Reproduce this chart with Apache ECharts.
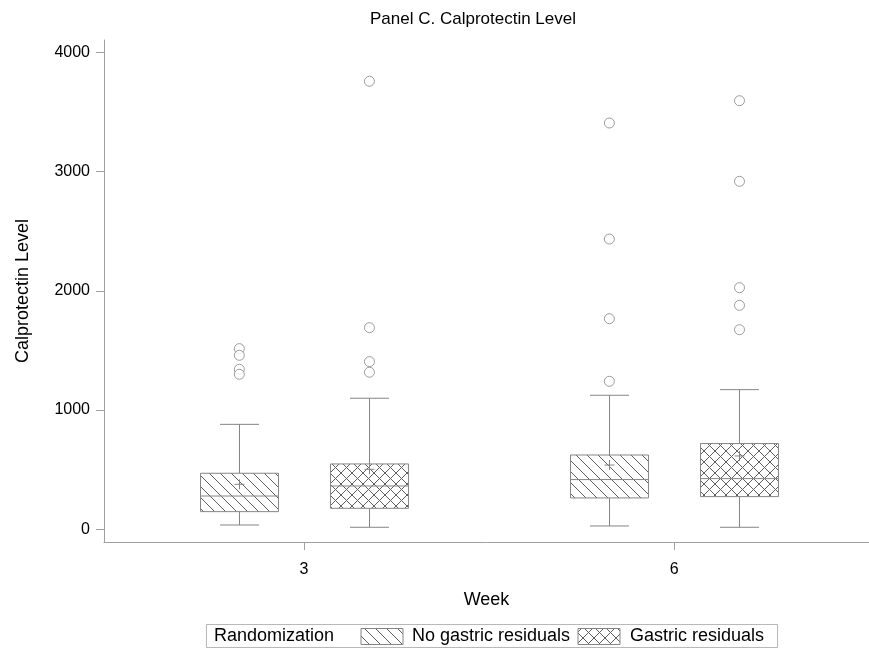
<!DOCTYPE html>
<html>
<head>
<meta charset="utf-8">
<script src="https://cdn.jsdelivr.net/npm/echarts@6/dist/echarts.min.js"></script>
<style>
html,body{margin:0;padding:0;background:#fff;}
#chart{width:869px;height:654px;}
</style>
</head>
<body>
<div id="chart"></div>
<script>
// ---- data ----
const weeks = [3, 6];
const groupNames = ['No gastric residuals', 'Gastric residuals'];
// [min, Q1, median, Q3, max, mean] per week
const noResidualStats = [
  [36, 148, 279, 470, 880, 377],
  [28, 263, 417, 623, 1124, 539]
];
const residualStats = [
  [17, 176, 363, 548, 1099, 503],
  [17, 274, 425, 719, 1171, 615]
];
const noResidualOutliers = [
  [1515, 1459, 1342, 1300],
  [1241, 1766, 2434, 3407]
];
const residualOutliers = [
  [1317, 1406, 1691, 3757],
  [1674, 1878, 2026, 2918, 3594]
];
const yTicks = [0, 1000, 2000, 3000, 4000];

// ---- styling / layout ----
const GRAY = '#858585';
const FONT = 'Liberation Sans, Arial, sans-serif';
const OFFSETS = [-0.525, 0.53];
const BOX_W = 0.632;

function makePattern(cross) {
  const s = 11;
  const c = document.createElement('canvas');
  c.width = s; c.height = s;
  const g = c.getContext('2d');
  g.fillStyle = '#fff';
  g.fillRect(0, 0, s, s);
  g.strokeStyle = '#5e5e5e';
  g.lineWidth = 1;
  g.beginPath();
  g.moveTo(-2, -2); g.lineTo(s + 2, s + 2);
  g.moveTo(-2, s - 2); g.lineTo(2, s + 2);
  g.moveTo(s - 2, -2); g.lineTo(s + 2, 2);
  if (cross) {
    g.moveTo(-2, s + 2); g.lineTo(s + 2, -2);
    g.moveTo(-2, 2); g.lineTo(2, -2);
    g.moveTo(s - 2, s + 2); g.lineTo(s + 2, s - 2);
  }
  g.stroke();
  return c;
}
const patterns = [makePattern(false), makePattern(true)];

function boxData(stats, gi) {
  return weeks.map((w, i) => [w + OFFSETS[gi]].concat(stats[i]));
}
function outlierData(outs, gi) {
  const d = [];
  weeks.forEach((w, i) => outs[i].forEach(v => d.push([w + OFFSETS[gi], v])));
  return d;
}

function makeRender(gi) {
  return function (params, api) {
    const x = api.value(0);
    const lo = api.coord([x, api.value(1)]);
    const q1 = api.coord([x, api.value(2)]);
    const med = api.coord([x, api.value(3)]);
    const q3 = api.coord([x, api.value(4)]);
    const hi = api.coord([x, api.value(5)]);
    const mean = api.coord([x, api.value(6)]);
    const w = api.size([BOX_W, 0])[0];
    const cx = Math.round(lo[0]) + 0.5;
    const half = w / 2;
    const cap = w / 4;
    const ls = { stroke: GRAY, lineWidth: 1 };
    return {
      type: 'group',
      children: [
        { type: 'line', shape: { x1: cx, y1: q3[1], x2: cx, y2: hi[1] }, style: ls },
        { type: 'line', shape: { x1: cx, y1: q1[1], x2: cx, y2: lo[1] }, style: ls },
        { type: 'line', shape: { x1: cx - cap, y1: hi[1], x2: cx + cap, y2: hi[1] }, style: ls },
        { type: 'line', shape: { x1: cx - cap, y1: lo[1], x2: cx + cap, y2: lo[1] }, style: ls },
        { type: 'rect', shape: { x: cx - half, y: q3[1], width: w, height: q1[1] - q3[1] },
          style: { fill: { image: patterns[gi], repeat: 'repeat' }, stroke: GRAY, lineWidth: 1 } },
        { type: 'line', shape: { x1: cx - half, y1: med[1], x2: cx + half, y2: med[1] }, style: ls },
        { type: 'line', shape: { x1: cx - 5, y1: mean[1], x2: cx + 5, y2: mean[1] }, style: ls },
        { type: 'line', shape: { x1: cx, y1: mean[1] - 5, x2: cx, y2: mean[1] + 5 }, style: ls }
      ]
    };
  };
}

const chart = echarts.init(document.getElementById('chart'), null, { renderer: 'canvas' });
const option = {
  backgroundColor: '#fff',
  animation: false,
  textStyle: { fontFamily: FONT },
  title: {
    text: 'Panel C. Calprotectin Level',
    left: 468, top: 6, textAlign: 'center',
    textStyle: { fontSize: 17, fontWeight: 'normal', color: '#000', fontFamily: FONT }
  },
  grid: { left: 104, right: 0, top: 40, bottom: 112, containLabel: false },
  xAxis: {
    type: 'value', min: 1.378, max: 7.58,
    name: 'Week', nameLocation: 'middle', nameGap: 49,
    nameTextStyle: { fontSize: 18, color: '#000', fontFamily: FONT },
    splitLine: { show: false },
    axisLine: { show: true, onZero: false, lineStyle: { color: '#a0a0a0' } },
    axisTick: { show: true, length: 8, customValues: weeks, lineStyle: { color: '#a0a0a0' } },
    axisLabel: { customValues: weeks, fontSize: 16, color: '#000', margin: 20, fontFamily: FONT,
      formatter: v => String(v) }
  },
  yAxis: {
    type: 'value', min: -106.5, max: 4103,
    name: 'Calprotectin Level', nameLocation: 'middle', nameGap: 72, nameRotate: 90,
    nameTextStyle: { fontSize: 18, color: '#000', fontFamily: FONT },
    splitLine: { show: false },
    axisLine: { show: true, onZero: false, lineStyle: { color: '#a0a0a0' } },
    axisTick: { show: true, length: 8, customValues: yTicks, lineStyle: { color: '#a0a0a0' } },
    axisLabel: { customValues: yTicks, fontSize: 16, color: '#000', margin: 14, fontFamily: FONT,
      formatter: v => String(v) }
  },
  series: [
    { type: 'custom', name: groupNames[0], renderItem: makeRender(0),
      data: boxData(noResidualStats, 0), encode: { x: 0, y: [1, 2, 3, 4, 5, 6] }, z: 2 },
    { type: 'custom', name: groupNames[1], renderItem: makeRender(1),
      data: boxData(residualStats, 1), encode: { x: 0, y: [1, 2, 3, 4, 5, 6] }, z: 2 },
    { type: 'scatter', name: groupNames[0] + ' outliers', symbol: 'circle', symbolSize: 10,
      itemStyle: { color: '#fff', borderColor: GRAY, borderWidth: 1 },
      data: outlierData(noResidualOutliers, 0), z: 3 },
    { type: 'scatter', name: groupNames[1] + ' outliers', symbol: 'circle', symbolSize: 10,
      itemStyle: { color: '#fff', borderColor: GRAY, borderWidth: 1 },
      data: outlierData(residualOutliers, 1), z: 3 }
  ],
  graphic: [
    { type: 'rect', x: 0, y: 0, shape: { x: 206.5, y: 624.5, width: 571, height: 23 },
      style: { fill: '#fff', stroke: '#b8b8b8', lineWidth: 1 } },
    { type: 'text', x: 0, y: 0,
      style: { x: 214, y: 636.5, text: 'Randomization', font: '18px ' + FONT, fill: '#000', verticalAlign: 'middle' } },
    { type: 'rect', x: 0, y: 0, shape: { x: 361, y: 628.5, width: 42, height: 16 },
      style: { fill: { image: patterns[0], repeat: 'repeat' }, stroke: GRAY, lineWidth: 1 } },
    { type: 'text', x: 0, y: 0,
      style: { x: 412, y: 636.5, text: groupNames[0], font: '18px ' + FONT, fill: '#000', verticalAlign: 'middle' } },
    { type: 'rect', x: 0, y: 0, shape: { x: 578, y: 628.5, width: 42, height: 16 },
      style: { fill: { image: patterns[1], repeat: 'repeat' }, stroke: GRAY, lineWidth: 1 } },
    { type: 'text', x: 0, y: 0,
      style: { x: 630, y: 636.5, text: groupNames[1], font: '18px ' + FONT, fill: '#000', verticalAlign: 'middle' } }
  ]
};
chart.setOption(option);
</script>
</body>
</html>
